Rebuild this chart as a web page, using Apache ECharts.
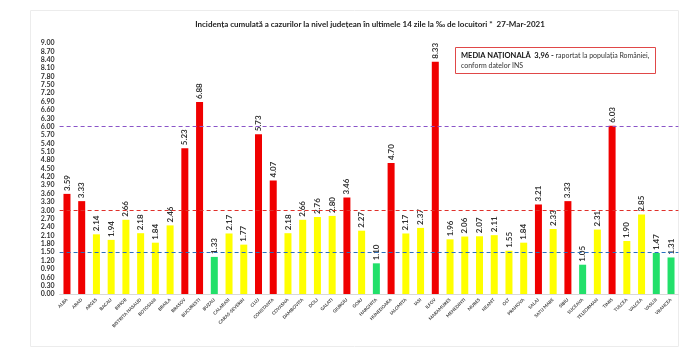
<!DOCTYPE html>
<html>
<head>
<meta charset="utf-8">
<script src="https://cdn.jsdelivr.net/npm/echarts@6/dist/echarts.min.js"></script>
<style>html,body{margin:0;padding:0;background:#fff}#c{width:700px;height:361px}</style>
</head>
<body>
<div id="c"></div>
<script>
const categories = ["ALBA","ARAD","ARGES","BACAU","BIHOR","BISTRITA NASAUD","BOTOSANI","BRAILA","BRASOV","BUCURESTI","BUZAU","CALARASI","CARAS-SEVERIN","CLUJ","CONSTANTA","COVASNA","DAMBOVITA","DOLJ","GALATI","GIURGIU","GORJ","HARGHITA","HUNEDOARA","IALOMITA","IASI","ILFOV","MARAMURES","MEHEDINTI","MURES","NEAMT","OLT","PRAHOVA","SALAJ","SATU MARE","SIBIU","SUCEAVA","TELEORMAN","TIMIS","TULCEA","VALCEA","VASLUI","VRANCEA"];
const values = [3.59,3.33,2.14,1.94,2.66,2.18,1.84,2.46,5.23,6.88,1.33,2.17,1.77,5.73,4.07,2.18,2.66,2.76,2.80,3.46,2.27,1.10,4.70,2.17,2.37,8.33,1.96,2.06,2.07,2.11,1.55,1.84,3.21,2.33,3.33,1.05,2.31,6.03,1.90,2.85,1.47,1.31];
const thresholds = [1.5, 3, 6];
const thresholdColors = ["#2a6ebd", "#e0302a", "#8a55c8"];
const title = "Incidența cumulată a cazurilor la nivel județean în ultimele 14 zile la ‰ de locuitori *  27-Mar-2021";
const noteBold = "MEDIA NAȚIONALĂ  3,96 - ";
const noteText1 = "raportat la populația României,";
const noteText2 = "conform datelor INS";

function barColor(v) {
  if (v > 3) return "#f00000";
  if (v >= 1.5) return "#ffff00";
  return "#22e06a";
}

const chart = echarts.init(document.getElementById('c'), null, {renderer: 'canvas'});
const F = 'Lato, "Open Sans", sans-serif';
chart.setOption({
  animation: false,
  textStyle: {fontFamily: F},
  title: {
    text: title, left: 365, top: 15, textAlign: 'center',
    textStyle: {fontSize: 8, fontWeight: 'bold', color: '#222', fontFamily: F}
  },
  grid: {left: 59.6, right: 21.6, top: 43, bottom: 67},
  xAxis: {
    type: 'category', data: categories,
    axisLine: {lineStyle: {color: '#d9d9d9'}},
    axisTick: {show: false},
    axisLabel: {interval: 0, rotate: 45, fontSize: 4.5, fontWeight: 'bold', color: '#444', margin: 5}
  },
  yAxis: {
    type: 'value', min: 0, max: 9, interval: 0.3,
    splitLine: {show: false},
    axisLine: {show: false}, axisTick: {show: false},
    axisLabel: {fontSize: 7, fontWeight: 'bold', color: '#333', margin: 5, formatter: v => v.toFixed(2)}
  },
  graphic: [
    {type: 'rect', shape: {x: 30.5, y: 10.5, width: 648, height: 336}, style: {fill: 'none', stroke: '#ececec', lineWidth: 1}, silent: true, z: -10},
    {type: 'rect', shape: {x: 455.5, y: 47.5, width: 200, height: 26}, style: {fill: '#fff', stroke: '#e04848', lineWidth: 1}, z: 10},
    {type: 'text', x: 461, y: 51, z: 11, style: {
      text: '{b|' + noteBold + '}{n|' + noteText1 + '}\n{n|' + noteText2 + '}',
      rich: {
        b: {fontSize: 7.5, fontWeight: 'bold', fill: '#111', fontFamily: F, lineHeight: 10},
        n: {fontSize: 7, fill: '#333', fontFamily: F, lineHeight: 10}
      }
    }}
  ],
  series: [{
    type: 'bar',
    data: values.map(v => ({value: v, itemStyle: {color: barColor(v)}})),
    barWidth: 7,
    label: {
      show: true, position: 'top', rotate: 90, align: 'left', verticalAlign: 'middle', distance: 3,
      fontSize: 8, fontWeight: 'bold', color: '#333',
      formatter: p => p.value.toFixed(2)
    },
    markLine: {
      symbol: 'none', silent: true, label: {show: false},
      data: thresholds.map((t, i) => ({yAxis: t, lineStyle: {color: thresholdColors[i], type: [4, 3], width: 1.2}}))
    },
    z: 2
  }]
});
</script>
</body>
</html>
